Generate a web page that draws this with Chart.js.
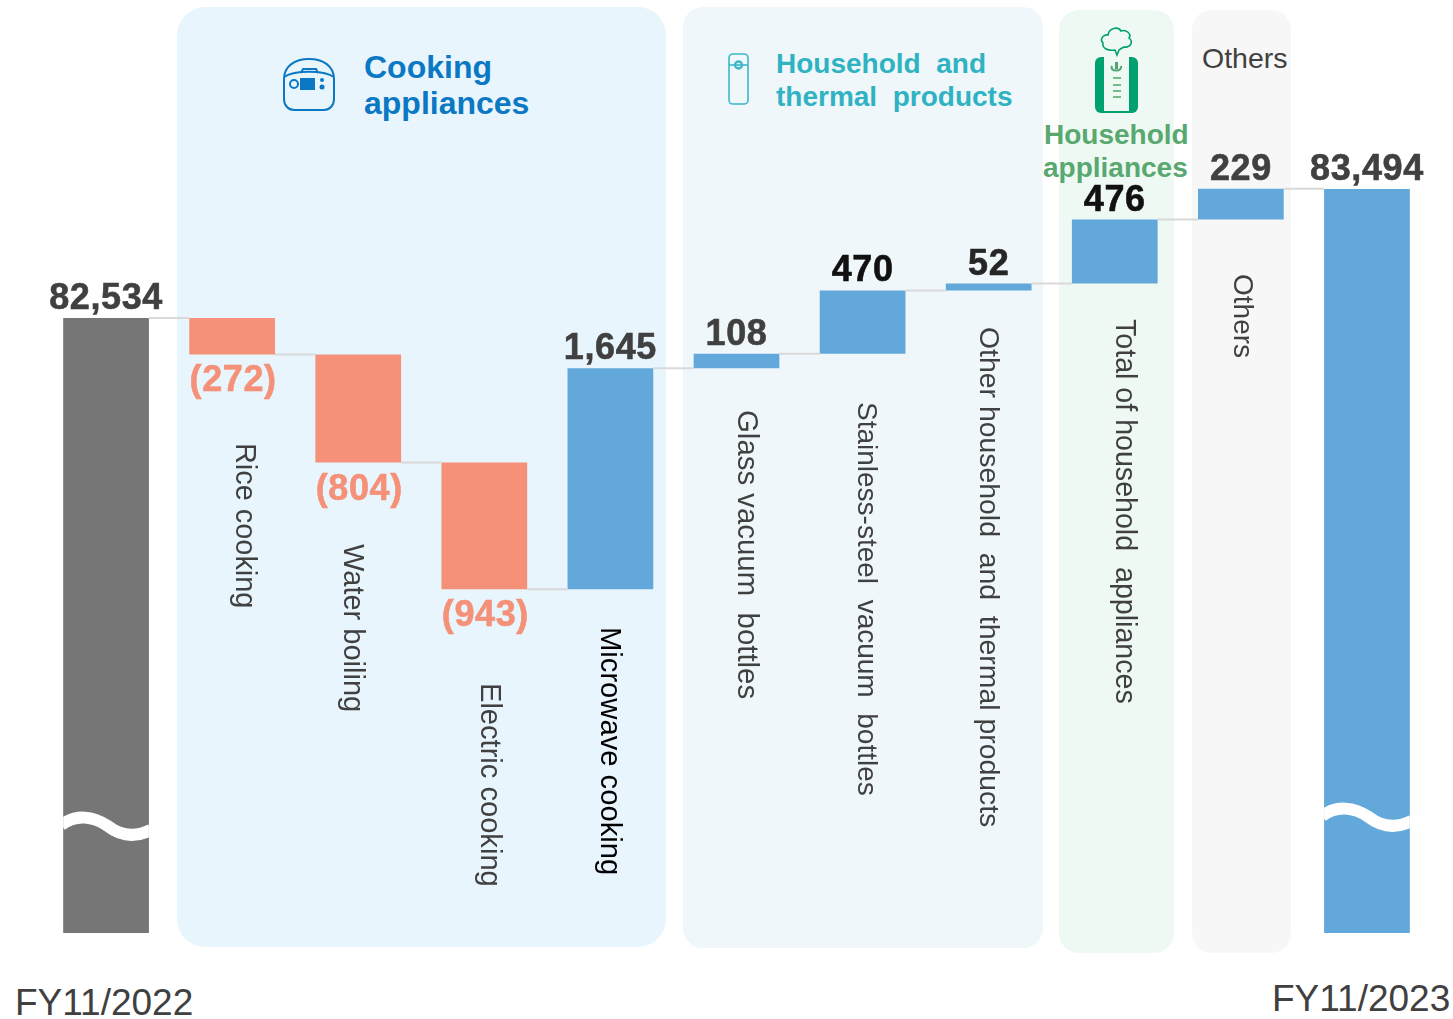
<!DOCTYPE html>
<html>
<head>
<meta charset="utf-8">
<title>Net sales bridge</title>
<script src="https://cdn.jsdelivr.net/npm/chart.js@4"></script>
<style>
    html, body { margin: 0; padding: 0; background: #fff; }
    #page { position: relative; width: 1453px; height: 1019px; overflow: hidden; font-family: "Liberation Sans", Arial, sans-serif; }
    #page canvas { position: absolute; left: 0; top: 0; }
    .panel { position: absolute; }
    .head { position: absolute; font-weight: bold; white-space: pre; line-height: 1; }
    .plain { position: absolute; color: #404040; white-space: pre; line-height: 1; }
    svg { position: absolute; overflow: visible; }
</style>
</head>
<body>
<div id="page">
    <div class="panel" style="left:177px;top:7px;width:489px;height:940px;background:#e8f5fd;border-radius:28px"></div>
    <div class="panel" style="left:683px;top:7px;width:360px;height:941px;background:#eff7fa;border-radius:20px"></div>
    <div class="panel" style="left:1059px;top:10px;width:115px;height:943px;background:#eff9f3;border-radius:20px"></div>
    <div class="panel" style="left:1192px;top:10px;width:99px;height:943px;background:#f7f7f7;border-radius:20px"></div>

    <!-- rice cooker -->
    <svg style="left:283px;top:58px" width="52" height="53" viewBox="0 0 52 53" fill="none" stroke="#0b78c4" stroke-width="2">
        <path d="M1 21 C1 8 12 1 26 1 C40 1 51 8 51 21 V41 C51 47 47 52 41 52 H11 C5 52 1 47 1 41 Z"/>
        <path d="M1 19 C12 12 40 12 51 19"/>
        <path d="M18 15 L20 11 H33 L35 15"/>
        <circle cx="11" cy="26" r="4"/>
        <rect x="17" y="20" width="15" height="12" fill="#0b78c4" stroke="none"/>
        <circle cx="39" cy="22" r="2" fill="#0b78c4" stroke="none"/>
        <circle cx="39" cy="29" r="2.5" fill="#0b78c4" stroke="none"/>
    </svg>
    <div class="head" style="left:364px;top:51px;font-size:32px;color:#0b78c4">Cooking</div>
    <div class="head" style="left:364px;top:87px;font-size:32px;color:#0b78c4">appliances</div>

    <!-- bottle -->
    <svg style="left:728px;top:53px" width="21" height="52" viewBox="0 0 21 52" fill="none" stroke="#3db8c8" stroke-width="1.6">
        <rect x="1" y="1" width="19" height="50" rx="4"/>
        <path d="M1 12 H20"/>
        <circle cx="10.5" cy="12" r="3.5" stroke-width="2.4"/>
    </svg>
    <div class="head" style="left:776px;top:50px;font-size:28px;color:#2fb3c3">Household  and</div>
    <div class="head" style="left:776px;top:83px;font-size:28px;color:#2fb3c3">thermal  products</div>

    <!-- humidifier -->
    <svg style="left:1095px;top:24px" width="44" height="90" viewBox="0 0 44 90" fill="none">
        <path d="M20 26 C12 27 7 24 8 19 C4 15 9 10 13 11 C14 4 23 2 26 7 C31 5 37 10 34 14 C39 18 35 24 29 23 C27 24 25 25 24 26 L22 31 Z" stroke="#00a070" stroke-width="1.6"/>
        <rect x="0" y="33" width="43" height="56" rx="6" fill="#00a070"/>
        <rect x="9" y="33" width="25" height="54" fill="#eff9f3"/>
        <path d="M17 42 C14 48 28 48 26 42" stroke="#4fa66e" stroke-width="2"/>
        <path d="M21.5 38 V45" stroke="#4fa66e" stroke-width="3"/>
        <path d="M18 54 H26 M18 61 H26 M18 67 H26 M18 73 H26" stroke="#4fa66e" stroke-width="1.6"/>
    </svg>
    <div class="head" style="left:1044px;top:121px;font-size:28px;color:#58a86f">Household</div>
    <div class="head" style="left:1043px;top:154px;font-size:28px;color:#58a86f">appliances</div>

    <div class="plain" style="left:1202px;top:44px;font-size:28.5px">Others</div>
    <div class="plain" style="left:15px;top:984px;font-size:37px">FY11/2022</div>
    <div class="plain" style="left:1272px;top:980px;font-size:37px">FY11/2023</div>

    <canvas id="myChart" width="1453" height="1019"></canvas>
</div>

<script>
const categories = ["FY11/2022", "Rice cooking", "Water boiling", "Electric cooking", "Microwave cooking",
    "Glass vacuum  bottles", "Stainless-steel  vacuum  bottles", "Other household  and  thermal products",
    "Total of household  appliances", "Others", "FY11/2023"];
const barFrom = [77958, 82534, 82262, 81458, 80515, 82160, 82268, 82738, 82790, 83266, 77958];
const barTo = [82534, 82262, 81458, 80515, 82160, 82268, 82738, 82790, 83266, 83495, 83494];
const valueLabels = ["82,534", "(272)", "(804)", "(943)", "1,645", "108", "470", "52", "476", "229", "83,494"];

// layout only
const barColors = ["#767676", "#f49178", "#f49178", "#f49178", "#62a8da", "#62a8da", "#62a8da", "#62a8da", "#62a8da", "#62a8da", "#62a8da"];
const valueColors = ["#404040", "#f49178", "#f49178", "#f49178", "#404040", "#404040", "#111111", "#262626", "#111111", "#404040", "#404040"];
const textColors = ["", "#404040", "#404040", "#404040", "#000000", "#404040", "#404040", "#404040", "#404040", "#404040", ""];
const textCenterX = [0, 244, 352, 489, 609, 746, 866, 988, 1124, 1242, 0];
const textTop = [0, 443, 544, 683, 627, 410, 402, 327, 319, 274, 0];
const textSize = [0, 28.9, 29, 29.1, 29.2, 29.4, 28, 28.4, 28.6, 28, 0];
const FONT = '"Liberation Sans", Arial, sans-serif';

const overlay = {
    id: "overlay",
    afterDatasetsDraw(chart) {
        const { ctx, scales } = chart;
        const bars = chart.getDatasetMeta(0).data;
        ctx.save();

        // connectors between steps
        ctx.strokeStyle = "#d9d9d9";
        ctx.lineWidth = 2;
        for (let i = 0; i < bars.length - 1; i++) {
            const y = scales.y.getPixelForValue(barTo[i]);
            ctx.beginPath();
            ctx.moveTo(bars[i].x + bars[i].width / 2, y);
            ctx.lineTo(bars[i + 1].x - bars[i + 1].width / 2, y);
            ctx.stroke();
        }

        // axis break on the two total bars
        [[0, 825], [10, 816]].forEach(([i, y]) => {
            const l = bars[i].x - bars[i].width / 2;
            const w = bars[i].width;
            ctx.save();
            ctx.beginPath();
            ctx.rect(l, y - 40, w, 80);
            ctx.clip();
            ctx.strokeStyle = "#fff";
            ctx.lineWidth = 12;
            ctx.beginPath();
            ctx.moveTo(l - 2, y);
            ctx.bezierCurveTo(l + w * 0.15, y - 11, l + w * 0.35, y - 9, l + w * 0.52, y + 1);
            ctx.bezierCurveTo(l + w * 0.7, y + 13, l + w * 0.88, y + 11, l + w + 2, y + 5);
            ctx.stroke();
            ctx.restore();
        });

        // value labels
        ctx.textAlign = "center";
        ctx.textBaseline = "middle";
        ctx.font = "bold 36px " + FONT;
        ctx.letterSpacing = "0.6px";
        ctx.lineWidth = 0.6;
        valueLabels.forEach((label, i) => {
            const down = barTo[i] < barFrom[i];
            const y = down ? scales.y.getPixelForValue(barTo[i]) + 27 : scales.y.getPixelForValue(barTo[i]) - 19;
            ctx.fillStyle = valueColors[i];
            ctx.strokeStyle = valueColors[i];
            ctx.fillText(label, bars[i].x + (down ? 1 : 0), y);
            ctx.strokeText(label, bars[i].x + (down ? 1 : 0), y);
        });
        ctx.letterSpacing = "0px";

        // rotated category names
        ctx.textAlign = "left";
        categories.forEach((name, i) => {
            if (!textTop[i]) return;
            ctx.save();
            ctx.font = textSize[i] + "px " + FONT;
            ctx.translate(textCenterX[i], textTop[i]);
            ctx.rotate(Math.PI / 2);
            ctx.fillStyle = textColors[i];
            ctx.fillText(name, 0, 0);
            ctx.restore();
        });
        ctx.restore();
    }
};

window.onload = () => {
    const ctx = document.getElementById("myChart").getContext("2d");
    new Chart(ctx, {
        type: "bar",
        data: {
            labels: categories,
            datasets: [{
                data: barFrom.map((from, i) => [from, barTo[i]]),
                backgroundColor: barColors,
                borderWidth: 0,
                barPercentage: 0.68,
                categoryPercentage: 1
            }]
        },
        options: {
            responsive: false,
            animation: false,
            layout: { padding: { left: 43, right: 23, top: 0, bottom: 0 } },
            plugins: { legend: { display: false }, tooltip: { enabled: false } },
            scales: {
                x: { display: false },
                y: { display: false, min: 77318, max: 84900 }
            }
        },
        plugins: [overlay]
    });
};
</script>
</body>
</html>
